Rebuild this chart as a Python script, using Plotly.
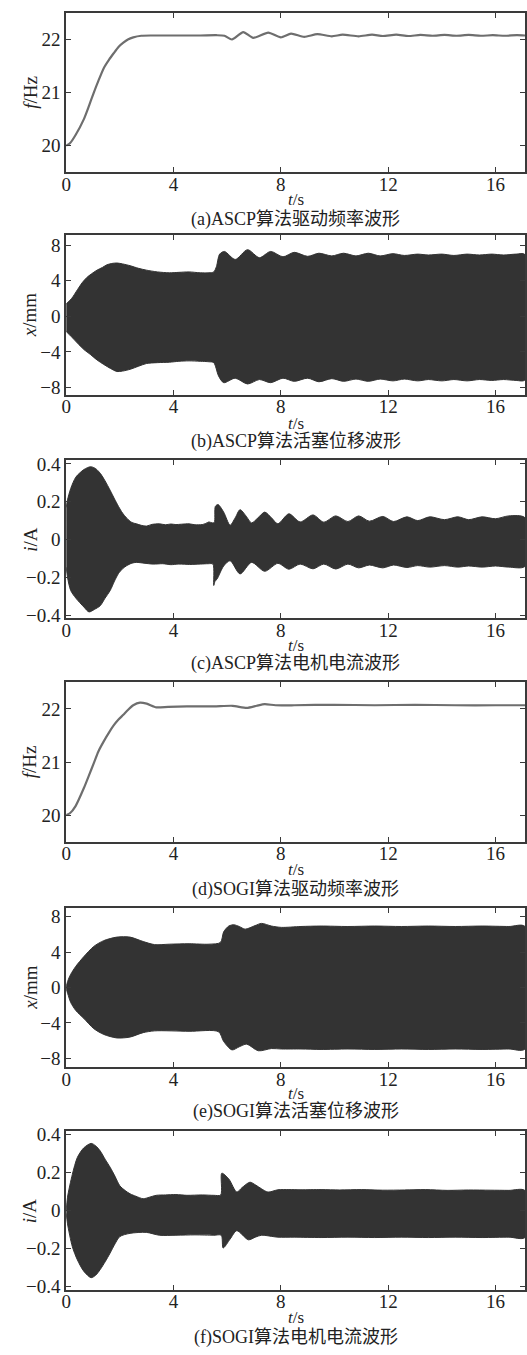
import plotly.graph_objects as go

# ---------------- data ----------------
# (a) ASCP drive frequency
ta = [0, 0.15, 0.35, 0.66, 0.85, 1.03, 1.2, 1.4, 1.6, 1.77, 1.95, 2.13, 2.3, 2.5, 2.8, 3.2, 4.0, 5.0, 5.6,
      5.9, 6.18, 6.6, 6.97, 7.53, 8.0, 8.38, 8.87, 9.36, 9.9, 10.3, 10.9, 11.4, 11.8, 12.3, 12.75, 13.2,
      13.65, 14.1, 14.55, 15.0, 15.45, 15.9, 16.35, 16.8, 17.1]
fa = [20.0, 20.05, 20.2, 20.5, 20.75, 21.0, 21.22, 21.46, 21.62, 21.74, 21.86, 21.94, 22.0, 22.04, 22.07,
      22.075, 22.075, 22.075, 22.08, 22.07, 22.0, 22.14, 22.03, 22.13, 22.04, 22.11, 22.05, 22.1, 22.06,
      22.09, 22.06, 22.09, 22.065, 22.09, 22.065, 22.085, 22.07, 22.085, 22.07, 22.085, 22.07, 22.08,
      22.07, 22.08, 22.075]

# (b) ASCP piston displacement envelope
tb_up = [0, 0.2, 0.42, 0.6, 0.78, 1.0, 1.15, 1.35, 1.52, 1.7, 1.89, 2.1, 2.38, 2.7, 2.99, 3.4, 3.85, 4.2,
         4.58, 5.0, 5.32, 5.5, 5.6, 5.72, 5.9, 6.3, 6.76, 7.2, 7.62, 8.08, 8.5, 9.0, 9.42, 9.9, 10.34,
         10.8, 11.26, 11.7, 12.18, 12.6, 13.1, 13.5, 14.0, 14.45, 14.94, 15.4, 15.86, 16.3, 16.77, 17.1]
xb_up = [1.4, 2.0, 3.0, 3.8, 4.4, 4.9, 5.2, 5.5, 5.8, 5.95, 6.0, 5.9, 5.7, 5.4, 5.2, 5.0, 4.9, 4.95,
         5.0, 4.9, 4.9, 5.0, 5.6, 7.0, 7.3, 6.4, 7.5, 6.6, 7.3, 6.7, 7.2, 6.75, 7.1, 6.8, 7.1,
         6.8, 7.1, 6.8, 7.05, 6.85, 7.0, 6.9, 7.0, 6.85, 7.0, 6.9, 7.0, 6.9, 7.0, 6.95]
tb_lo = [0, 0.2, 0.42, 0.65, 0.91, 1.15, 1.4, 1.65, 1.89, 2.1, 2.38, 2.7, 2.99, 3.4, 3.85, 4.2, 4.58,
         5.0, 5.32, 5.5, 5.68, 5.87, 6.3, 6.76, 7.2, 7.62, 8.08, 8.5, 9.0, 9.42, 9.9, 10.34, 10.8, 11.26,
         11.7, 12.18, 12.6, 13.1, 13.5, 14.0, 14.45, 14.94, 15.4, 15.86, 16.3, 16.77, 17.1]
xb_lo = [-1.7, -2.3, -3.0, -3.7, -4.3, -4.9, -5.4, -5.85, -6.2, -6.15, -5.95, -5.6, -5.3, -5.2, -5.15,
         -5.05, -5.0, -5.05, -5.1, -5.2, -6.7, -7.45, -6.95, -7.6, -7.1, -7.45, -6.95, -7.3, -6.95, -7.35,
         -7.0, -7.3, -7.05, -7.3, -7.05, -7.25, -7.05, -7.25, -7.1, -7.25, -7.1, -7.25, -7.1, -7.2, -7.1,
         -7.2, -7.15]

# (c) ASCP motor current envelope
tc_up = [0, 0.05, 0.17, 0.36, 0.66, 0.91, 1.1, 1.27, 1.45, 1.64, 1.8, 1.95, 2.1, 2.25, 2.45, 2.62, 2.8,
         2.99, 3.2, 3.48, 3.7, 3.9, 4.09, 4.3, 4.58, 4.8, 5.07, 5.2, 5.32, 5.44, 5.52, 5.56, 5.66, 5.87,
         6.11, 6.3, 6.48, 6.7, 6.91, 7.15, 7.4, 7.65, 7.89, 8.3, 8.72, 9.2, 9.6, 10.05, 10.5, 10.9, 11.3,
         11.8, 12.2, 12.7, 13.1, 13.55, 14.1, 14.6, 15.0, 15.5, 16.0, 16.5, 17.1]
ic_up = [0.17, 0.21, 0.27, 0.33, 0.37, 0.385, 0.375, 0.35, 0.31, 0.26, 0.215, 0.175, 0.14, 0.114, 0.09,
         0.083, 0.075, 0.071, 0.08, 0.083, 0.078, 0.082, 0.079, 0.081, 0.083, 0.078, 0.079, 0.085, 0.093,
         0.088, 0.09, 0.175, 0.185, 0.145, 0.076, 0.115, 0.158, 0.125, 0.088, 0.115, 0.145, 0.115, 0.083,
         0.136, 0.093, 0.13, 0.092, 0.125, 0.095, 0.125, 0.097, 0.122, 0.095, 0.12, 0.1, 0.12, 0.105,
         0.12, 0.105, 0.12, 0.11, 0.125, 0.115]
tc_lo = [0, 0.05, 0.17, 0.36, 0.66, 0.85, 1.05, 1.27, 1.45, 1.64, 1.8, 1.95, 2.1, 2.25, 2.45, 2.62, 2.9,
         3.24, 3.6, 3.9, 4.2, 4.6, 5.0, 5.3, 5.47, 5.5, 5.55, 5.62, 5.87, 6.11, 6.48, 6.91, 7.4, 7.89,
         8.3, 8.72, 9.2, 9.6, 10.05, 10.5, 10.9, 11.3, 11.8, 12.2, 12.7, 13.1, 13.55, 14.1, 14.6, 15.0,
         15.5, 16.0, 16.5, 17.1]
ic_lo = [-0.147, -0.2, -0.27, -0.31, -0.357, -0.383, -0.37, -0.35, -0.31, -0.27, -0.22, -0.18, -0.155,
         -0.139, -0.125, -0.121, -0.125, -0.13, -0.128, -0.133, -0.13, -0.132, -0.13, -0.128, -0.13,
         -0.243, -0.22, -0.21, -0.14, -0.112, -0.182, -0.121, -0.168, -0.126, -0.157, -0.13, -0.155,
         -0.13, -0.156, -0.13, -0.15, -0.135, -0.15, -0.135, -0.148, -0.138, -0.146, -0.138, -0.146,
         -0.14, -0.146, -0.14, -0.146, -0.142]

# (d) SOGI drive frequency
td = [0, 0.15, 0.35, 0.66, 0.85, 1.03, 1.2, 1.4, 1.6, 1.77, 1.95, 2.13, 2.3, 2.5, 2.75, 3.0, 3.36, 3.8,
      4.5, 5.5, 6.2, 6.73, 7.1, 7.4, 7.8, 8.5, 10.0, 11.5, 13.0, 14.5, 16.0, 17.1]
fd = [20.0, 20.04, 20.17, 20.51, 20.75, 20.98, 21.2, 21.39, 21.56, 21.69, 21.8, 21.89, 21.98, 22.07,
      22.12, 22.1, 22.03, 22.04, 22.05, 22.05, 22.06, 22.02, 22.06, 22.09, 22.07, 22.07, 22.08, 22.07,
      22.08, 22.07, 22.07, 22.07]

# (e) SOGI piston displacement envelope
te_up = [0, 0.08, 0.17, 0.36, 0.66, 1.03, 1.4, 1.89, 2.38, 2.87, 3.3, 3.85, 4.58, 5.32, 5.75, 5.87, 6.06,
         6.24, 6.45, 6.67, 7.04, 7.28, 7.65, 8.02, 8.75, 9.5, 10.5, 11.5, 12.5, 13.5, 14.5, 15.5, 16.5, 17.1]
xe_up = [0.0, 0.9, 1.5, 2.4, 3.5, 4.65, 5.3, 5.7, 5.7, 5.2, 4.85, 4.9, 4.95, 4.9, 5.1, 6.3, 6.95,
         7.1, 6.9, 6.6, 7.0, 7.25, 6.95, 6.8, 6.9, 6.95, 6.9, 6.95, 6.9, 6.95, 6.9, 6.95, 6.9, 6.9]
te_lo = [0, 0.08, 0.17, 0.36, 0.66, 1.03, 1.4, 1.89, 2.38, 2.87, 3.3, 4.58, 5.68, 5.87, 6.18, 6.45, 6.73,
         7.16, 7.65, 8.02, 8.75, 9.5, 10.5, 11.5, 12.5, 13.5, 14.5, 15.5, 16.5, 17.1]
xe_lo = [0.0, -0.9, -1.7, -2.6, -3.5, -4.65, -5.3, -5.7, -5.6, -5.1, -4.9, -4.95, -5.0, -6.1, -7.05,
         -6.7, -6.4, -7.15, -6.9, -6.95, -6.95, -7.0, -6.95, -7.0, -6.95, -7.0, -6.95, -7.0, -6.95, -6.95]

# (f) SOGI motor current envelope
tf_up = [0, 0.05, 0.23, 0.42, 0.66, 0.93, 1.1, 1.27, 1.45, 1.64, 1.82, 2.0, 2.2, 2.38, 2.6, 2.87, 3.1,
         3.36, 3.7, 4.09, 4.5, 5.07, 5.5, 5.76, 5.8, 6.06, 6.36, 6.55, 6.85, 7.05, 7.28, 7.52, 7.89, 8.3,
         8.75, 9.5, 10.2, 11.0, 11.8, 12.6, 13.4, 14.2, 15.0, 15.8, 16.5, 17.1]
if_up = [0.0, 0.07, 0.19, 0.28, 0.33, 0.353, 0.34, 0.313, 0.27, 0.227, 0.18, 0.13, 0.105, 0.088, 0.075,
         0.062, 0.07, 0.08, 0.082, 0.084, 0.08, 0.082, 0.08, 0.082, 0.196, 0.166, 0.097, 0.12, 0.149,
         0.135, 0.114, 0.097, 0.109, 0.11, 0.109, 0.11, 0.108, 0.11, 0.107, 0.108, 0.11, 0.106, 0.108,
         0.107, 0.106, 0.105]
tf_lo = [0, 0.05, 0.23, 0.42, 0.66, 0.93, 1.1, 1.27, 1.45, 1.64, 1.82, 2.0, 2.38, 2.99, 3.48, 4.09, 4.8,
         5.5, 5.78, 5.85, 6.11, 6.36, 6.79, 7.05, 7.28, 7.89, 8.5, 9.5, 10.5, 11.5, 12.5, 13.5, 14.5,
         15.5, 16.5, 17.1]
if_lo = [-0.015, -0.07, -0.19, -0.26, -0.32, -0.353, -0.34, -0.31, -0.27, -0.223, -0.175, -0.137, -0.12,
         -0.115, -0.13, -0.13, -0.128, -0.13, -0.13, -0.197, -0.15, -0.106, -0.154, -0.14, -0.13, -0.14,
         -0.14, -0.142, -0.14, -0.142, -0.14, -0.142, -0.14, -0.142, -0.14, -0.142]

x_ticks = [0, 4, 8, 12, 16]
f_ticks = [20, 21, 22]
x_mm_ticks = [-8, -4, 0, 4, 8]
x_mm_text = ["\u22128", "\u22124", "0", "4", "8"]
i_ticks = [-0.4, -0.2, 0, 0.2, 0.4]
i_text = ["\u22120.4", "\u22120.2", "0", "0.2", "0.4"]

captions = ["(a)ASCP算法驱动频率波形", "(b)ASCP算法活塞位移波形", "(c)ASCP算法电机电流波形",
            "(d)SOGI算法驱动频率波形", "(e)SOGI算法活塞位移波形", "(f)SOGI算法电机电流波形"]
ytitles = ["<i>f</i>/Hz", "<i>x</i>/mm", "<i>i</i>/A", "<i>f</i>/Hz", "<i>x</i>/mm", "<i>i</i>/A"]

# ---------------- layout geometry (pixels) ----------------
W, H = 527, 1355
LEFT = 62
panel_px = [(6, 167), (231, 392), (458, 618), (683, 844), (911, 1072), (1137, 1297)]
yranges = [[19.5, 22.5], [-8.8, 9.1], [-0.416, 0.421], [19.5, 22.5], [-9.0, 9.0], [-0.416, 0.416]]
ytick_sets = [(f_ticks, [str(v) for v in f_ticks]), (x_mm_ticks, x_mm_text), (i_ticks, i_text),
              (f_ticks, [str(v) for v in f_ticks]), (x_mm_ticks, x_mm_text), (i_ticks, i_text)]
ytitle_px = [86, 312, 538, 763, 992, 1217]
tlabel_px = [195, 421, 646, 872, 1099, 1325]
caption_px = [215, 439, 664, 892, 1117, 1345]

SERIF = "Liberation Serif, Times New Roman, Noto Sans CJK SC, serif"
FRAME = "#3a3a3a"
FILL = "#333333"
LINE = "#6e6e6e"

fig = go.Figure()


def envelope(t_up, v_up, t_lo, v_lo, k):
    xs = list(t_up) + list(reversed(t_lo))
    ys = list(v_up) + list(reversed(v_lo))
    fig.add_trace(go.Scatter(x=xs, y=ys, mode="lines", fill="toself", fillcolor=FILL,
                             line=dict(color=FILL, width=1, shape="spline", smoothing=0.8),
                             xaxis=f"x{k}", yaxis=f"y{k}", showlegend=False, hoverinfo="skip"))


def freq_line(t, f, k):
    fig.add_trace(go.Scatter(x=t, y=f, mode="lines",
                             line=dict(color=LINE, width=2.2, shape="spline", smoothing=0.6),
                             xaxis=f"x{k}", yaxis=f"y{k}", showlegend=False, hoverinfo="skip"))


freq_line(ta, fa, 1)
envelope(tb_up, xb_up, tb_lo, xb_lo, 2)
envelope(tc_up, ic_up, tc_lo, ic_lo, 3)
freq_line(td, fd, 4)
envelope(te_up, xe_up, te_lo, xe_lo, 5)
envelope(tf_up, if_up, tf_lo, if_lo, 6)

annotations = []
for i, (T, B) in enumerate(panel_px):
    k = i + 1
    xa = "xaxis" if k == 1 else f"xaxis{k}"
    ya = "yaxis" if k == 1 else f"yaxis{k}"
    ydom = [1 - B / H, 1 - T / H]
    fig.layout[xa] = dict(domain=[LEFT / W, 1], range=[0, 17.1], anchor=f"y{k}",
                          tickvals=x_ticks, ticktext=[str(v) for v in x_ticks],
                          ticks="inside", ticklen=5, tickwidth=1.2, tickcolor=FRAME,
                          ticklabelstandoff=-6,
                          showline=True, linecolor=FRAME, linewidth=1.6, mirror="ticks",
                          showgrid=False, zeroline=False,
                          tickfont=dict(family=SERIF, size=19, color="#222"))
    tv, tt = ytick_sets[i]
    fig.layout[ya] = dict(domain=ydom, range=yranges[i], anchor=f"x{k}",
                          tickvals=tv, ticktext=tt,
                          ticks="inside", ticklen=5, tickwidth=1.2, tickcolor=FRAME,
                          showline=True, linecolor=FRAME, linewidth=1.6, mirror="ticks",
                          showgrid=False, zeroline=False,
                          tickfont=dict(family=SERIF, size=19, color="#222"))
    annotations.append(dict(x=25 / W, y=1 - ytitle_px[i] / H, xref="paper", yref="paper",
                            text=ytitles[i], textangle=-90, showarrow=False,
                            xanchor="center", yanchor="middle",
                            font=dict(family=SERIF, size=19, color="#222")))
    annotations.append(dict(x=(LEFT + W) / 2 / W, y=1 - tlabel_px[i] / H, xref="paper", yref="paper",
                            text="<i>t</i>/s", showarrow=False, xanchor="center", yanchor="middle",
                            font=dict(family=SERIF, size=17, color="#222")))
    annotations.append(dict(x=(LEFT + W) / 2 / W, y=1 - caption_px[i] / H, xref="paper", yref="paper",
                            text=captions[i], showarrow=False, xanchor="center", yanchor="middle",
                            font=dict(family=SERIF, size=18, color="#222")))

fig.update_layout(width=W, height=H, margin=dict(l=0, r=0, t=0, b=0),
                  paper_bgcolor="white", plot_bgcolor="white",
                  annotations=annotations, showlegend=False)

fig.write_html("out.html", config={"displayModeBar": False},
               post_script="document.body.style.margin='0px';"
                           "document.body.style.overflow='hidden';")
